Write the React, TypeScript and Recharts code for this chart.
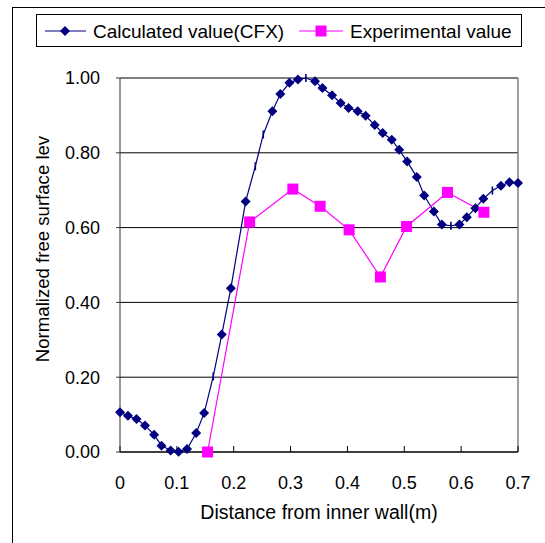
import React from "react";
import { CartesianGrid, Label, Line, LineChart, ReferenceLine, XAxis, YAxis } from "recharts";

// CFX profile: distance from inner wall (m) vs normalized free surface level
const calcX = [
  0, 0.014, 0.029, 0.044, 0.06, 0.073, 0.089, 0.103, 0.118, 0.134, 0.148, 0.164, 0.179, 0.195,
  0.221, 0.238, 0.252, 0.268, 0.282, 0.298, 0.313, 0.327, 0.343, 0.356, 0.373, 0.388, 0.402,
  0.418, 0.432, 0.448, 0.462, 0.478, 0.491, 0.505, 0.522, 0.535, 0.552, 0.566, 0.582, 0.597,
  0.61, 0.625, 0.639, 0.655, 0.67, 0.685, 0.7,
];
const calcY = [
  0.106, 0.097, 0.088, 0.071, 0.046, 0.017, 0.004, 0.001, 0.008, 0.051, 0.104, 0.202, 0.314,
  0.438, 0.67, 0.764, 0.849, 0.911, 0.957, 0.987, 0.996, 1.0, 0.991, 0.973, 0.954, 0.933, 0.92,
  0.911, 0.899, 0.874, 0.853, 0.835, 0.808, 0.777, 0.735, 0.686, 0.643, 0.608, 0.605, 0.608,
  0.628, 0.652, 0.677, 0.699, 0.712, 0.721, 0.719,
];

// measured points
const expX = [0.154, 0.228, 0.304, 0.352, 0.403, 0.458, 0.504, 0.576, 0.64];
const expY = [0, 0.615, 0.703, 0.657, 0.594, 0.468, 0.603, 0.694, 0.641];

const xTicks = [0, 0.1, 0.2, 0.3, 0.4, 0.5, 0.6, 0.7];
const yTicks = [0, 0.2, 0.4, 0.6, 0.8, 1.0];

const calcName = "Calculated value(CFX)";
const expName = "Experimental value";
const xTitle = "Distance from inner wall(m)";
const yTitle = "Normalized free surface lev";

const calcData = calcX.map((x, i) => ({ x, y: calcY[i] }));
const expData = expX.map((x, i) => ({ x, y: expY[i] }));

const NAVY = "#000080";
const MAGENTA = "#ff00ff";
const FONT = "'Liberation Sans', Arial, sans-serif";

// some CFX markers come out as a short vertical stroke instead of a diamond
const STROKE_MARKERS = new Set([11, 15, 16, 21, 38, 43]);

const DiamondDot = (props: any) => {
  const { cx, cy, index } = props;
  if (cx == null || cy == null) return null;
  if (STROKE_MARKERS.has(index)) {
    return (
      <line key={`c${index}`} x1={cx} x2={cx} y1={cy - 4} y2={cy + 4} stroke={NAVY} strokeWidth={1.6} />
    );
  }
  const r = 5;
  return (
    <polygon
      key={`c${index}`}
      points={`${cx},${cy - r} ${cx + r},${cy} ${cx},${cy + r} ${cx - r},${cy}`}
      fill={NAVY}
    />
  );
};

const SquareDot = (props: any) => {
  const { cx, cy, index } = props;
  if (cx == null || cy == null) return null;
  return <rect key={`e${index}`} x={cx - 5.5} y={cy - 5.5} width={11} height={11} fill={MAGENTA} />;
};

function LegendBox() {
  return (
    <div
      style={{
        position: "absolute",
        left: 36,
        top: 14,
        width: 484,
        height: 31,
        border: "1px solid #000",
        background: "#fff",
      }}
    >
      <svg width={484} height={31} style={{ position: "absolute", left: 0, top: 0 }}>
        <line x1={8} x2={49} y1={16} y2={16} stroke={NAVY} strokeWidth={1.2} />
        <polygon points="28,11 33,16 28,21 23,16" fill={NAVY} />
        <line x1={262} x2={306} y1={16} y2={16} stroke={MAGENTA} strokeWidth={1.2} />
        <rect x={278.5} y={10.5} width={11} height={11} fill={MAGENTA} />
        <text x={56} y={23} fontSize={19} fontFamily={FONT}>
          {calcName}
        </text>
        <text x={313} y={23} fontSize={19} fontFamily={FONT}>
          {expName}
        </text>
      </svg>
    </div>
  );
}

export default function App() {
  return (
    <div
      style={{
        position: "absolute",
        left: 0,
        top: 0,
        width: 545,
        height: 543,
        overflow: "hidden",
        background: "#fff",
      }}
    >
      <div
        style={{
          position: "absolute",
          left: 12,
          top: 7,
          width: 600,
          height: 600,
          border: "1px solid #000",
        }}
      />
      <div style={{ position: "absolute", left: 0, top: 0 }}>
        <LineChart width={545} height={543} margin={{ top: 78, right: 27, left: 0, bottom: 31 }}>
          <CartesianGrid horizontal vertical={false} stroke="#000" strokeWidth={1} />
          <XAxis
            type="number"
            dataKey="x"
            domain={[0, 0.7]}
            ticks={xTicks}
            height={60}
            stroke="#000"
            tickSize={-6}
            tickMargin={30}
            tickFormatter={(v: number) => (v === 0 ? "0" : v.toFixed(1))}
            tick={{ fill: "#000", fontSize: 18, fontFamily: FONT }}
          >
            <Label
              content={(p: any) => {
                const vb = p.viewBox || {};
                return (
                  <text
                    x={vb.x + vb.width / 2}
                    y={vb.y + 67}
                    textAnchor="middle"
                    fontSize={19.5}
                    fontFamily={FONT}
                    fill="#000"
                  >
                    {xTitle}
                  </text>
                );
              }}
            />
          </XAxis>
          <YAxis
            type="number"
            domain={[0, 1]}
            ticks={yTicks}
            width={120}
            stroke="#333"
            tickSize={4}
            tickMargin={16}
            tickFormatter={(v: number) => v.toFixed(2)}
            tick={{ fill: "#000", fontSize: 18, fontFamily: FONT }}
          >
            <Label
              content={(p: any) => {
                const vb = p.viewBox || {};
                const cx = 42;
                const cy = vb.y + vb.height / 2 - 16;
                return (
                  <text
                    x={cx}
                    y={cy}
                    transform={`rotate(-90 ${cx} ${cy})`}
                    textAnchor="middle"
                    dominantBaseline="central"
                    fontSize={18.6}
                    fontFamily={FONT}
                    fill="#000"
                  >
                    {yTitle}
                  </text>
                );
              }}
            />
          </YAxis>
          <ReferenceLine x={0.7} stroke="#808080" strokeWidth={1.5} />
          <Line
            data={calcData}
            dataKey="y"
            name={calcName}
            stroke={NAVY}
            strokeWidth={1.2}
            dot={DiamondDot}
            activeDot={false}
            isAnimationActive={false}
          />
          <Line
            data={expData}
            dataKey="y"
            name={expName}
            stroke={MAGENTA}
            strokeWidth={1.2}
            dot={SquareDot}
            activeDot={false}
            isAnimationActive={false}
          />
        </LineChart>
      </div>
      <LegendBox />
    </div>
  );
}
